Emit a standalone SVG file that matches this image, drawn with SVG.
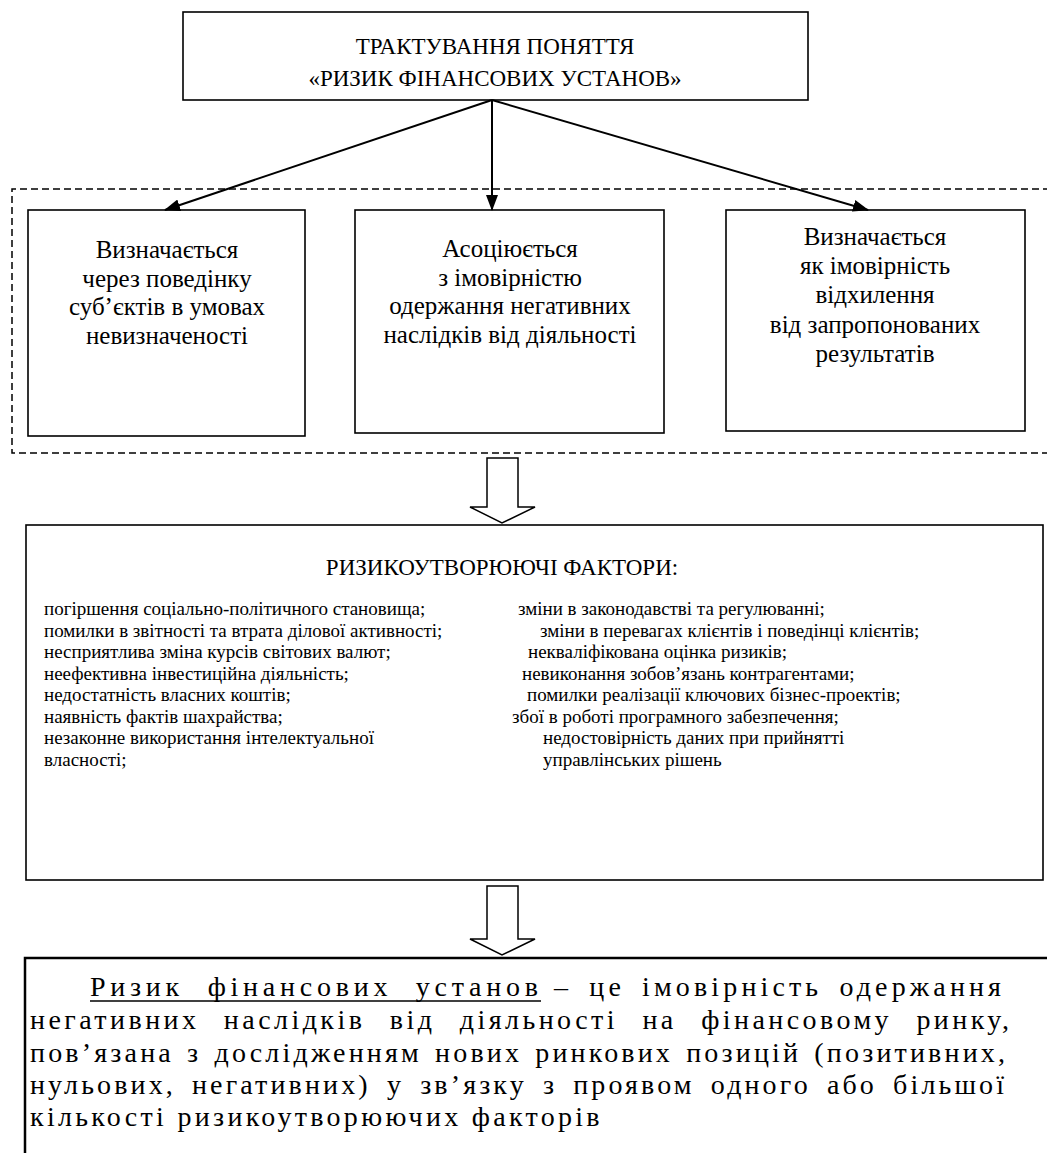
<svg xmlns="http://www.w3.org/2000/svg" width="1047" height="1153" viewBox="0 0 1047 1153">
<defs>
<marker id="ah" markerWidth="16" markerHeight="12" refX="15" refY="6" orient="auto" markerUnits="userSpaceOnUse">
<path d="M0,0 L16,6 L0,12 Z" fill="#000"/>
</marker>
<style>
.box{fill:#fff;stroke:#000;stroke-width:1.6}
.t{font-family:"Liberation Serif","Times New Roman","DejaVu Serif",serif;fill:#000}
.hd{font-size:23px}
.bx{font-size:25px}
.ft{font-size:19px}
.fin{font-size:28px;letter-spacing:3px}
.conn{stroke:#000;stroke-width:2;fill:none}
.blk{fill:#fff;stroke:#000;stroke-width:1.5}
</style>
</defs>
<rect width="1047" height="1153" fill="#fff"/>

<g id="group-frame">
<path d="M1050,189 H12 V453 H1050" fill="none" stroke="#000" stroke-width="1.5" stroke-dasharray="7,4"/>
</g>

<g id="node-top">
<rect class="box" x="183" y="12" width="625" height="88" stroke-width="2"/>
<text class="t hd" x="495" y="54" text-anchor="middle">ТРАКТУВАННЯ ПОНЯТТЯ</text>
<text class="t hd" x="495" y="86" text-anchor="middle">«РИЗИК ФІНАНСОВИХ УСТАНОВ»</text>
</g>

<g id="node-b1">
<rect class="box" x="28" y="210" width="277" height="226"/>
<text class="t bx" x="167" y="258" text-anchor="middle">Визначається</text>
<text class="t bx" x="167" y="287" text-anchor="middle">через поведінку</text>
<text class="t bx" x="167" y="315" text-anchor="middle">суб’єктів в умовах</text>
<text class="t bx" x="167" y="344" text-anchor="middle">невизначеності</text>
</g>

<g id="node-b2">
<rect class="box" x="355" y="210" width="309" height="223"/>
<text class="t bx" x="510" y="257" text-anchor="middle">Асоціюється</text>
<text class="t bx" x="510" y="286" text-anchor="middle">з імовірністю</text>
<text class="t bx" x="510" y="314" text-anchor="middle">одержання негативних</text>
<text class="t bx" x="510" y="343" text-anchor="middle">наслідків від діяльності</text>
</g>

<g id="node-b3">
<rect class="box" x="726" y="210" width="299" height="221"/>
<text class="t bx" x="875" y="245" text-anchor="middle">Визначається</text>
<text class="t bx" x="875" y="274" text-anchor="middle">як імовірність</text>
<text class="t bx" x="875" y="303" text-anchor="middle">відхилення</text>
<text class="t bx" x="875" y="333" text-anchor="middle">від запропонованих</text>
<text class="t bx" x="875" y="362" text-anchor="middle">результатів</text>
</g>

<g id="connectors">
<line class="conn" x1="492" y1="100" x2="165" y2="210" marker-end="url(#ah)"/>
<line class="conn" x1="492" y1="100" x2="492" y2="210" marker-end="url(#ah)"/>
<line class="conn" x1="492" y1="100" x2="868" y2="210" marker-end="url(#ah)"/>
<polygon class="blk" points="487,458 518,458 518,507 535,507 502,523 470,507 487,507"/>
<polygon class="blk" points="487,886 518,886 518,939 535,939 502,955 470,939 487,939"/>
</g>

<g id="node-factors">
<rect class="box" x="26" y="525" width="1017" height="355"/>
<text class="t" style="font-size:23px" x="502" y="575" text-anchor="middle">РИЗИКОУТВОРЮЮЧІ ФАКТОРИ:</text>
<text class="t ft" x="44" y="615">погіршення соціально-політичного становища;</text>
<text class="t ft" x="44" y="636.5">помилки в звітності та втрата ділової активності;</text>
<text class="t ft" x="44" y="658">несприятлива зміна курсів світових валют;</text>
<text class="t ft" x="44" y="679.5">неефективна інвестиційна діяльність;</text>
<text class="t ft" x="44" y="701">недостатність власних коштів;</text>
<text class="t ft" x="44" y="722.5">наявність фактів шахрайства;</text>
<text class="t ft" x="44" y="744">незаконне використання інтелектуальної</text>
<text class="t ft" x="44" y="765.5">власності;</text>
<text class="t ft" x="518" y="615">зміни в законодавстві та регулюванні;</text>
<text class="t ft" x="540" y="636.5">зміни в перевагах клієнтів і поведінці клієнтів;</text>
<text class="t ft" x="528" y="658">некваліфікована оцінка ризиків;</text>
<text class="t ft" x="522" y="679.5">невиконання зобов’язань контрагентами;</text>
<text class="t ft" x="527" y="701">помилки реалізації ключових бізнес-проектів;</text>
<text class="t ft" x="512" y="722.5">збої в роботі програмного забезпечення;</text>
<text class="t ft" x="543" y="744">недостовірність даних при прийнятті</text>
<text class="t ft" x="543" y="765.5">управлінських рішень</text>
</g>

<g id="node-definition">
<path d="M25,1153 V958 H1050" fill="none" stroke="#000" stroke-width="2.5"/>
<text class="t fin" x="90" y="996" word-spacing="12" textLength="451" lengthAdjust="spacing">Ризик фінансових установ</text>
<line x1="90" y1="1001" x2="541" y2="1001" stroke="#000" stroke-width="1.5"/>
<text class="t fin" x="554" y="996" word-spacing="6" textLength="450" lengthAdjust="spacing">– це імовірність одержання</text>
<text class="t fin" x="30" y="1029" word-spacing="14" textLength="982" lengthAdjust="spacing">негативних наслідків від діяльності на фінансовому ринку,</text>
<text class="t fin" x="30" y="1062" word-spacing="3" textLength="978" lengthAdjust="spacing">пов’язана з дослідженням нових ринкових позицій (позитивних,</text>
<text class="t fin" x="30" y="1094" word-spacing="6" textLength="977" lengthAdjust="spacing">нульових, негативних) у зв’язку з проявом одного або більшої</text>
<text class="t fin" x="30" y="1126" style="letter-spacing:3.3px">кількості ризикоутворюючих факторів</text>
</g>
</svg>
